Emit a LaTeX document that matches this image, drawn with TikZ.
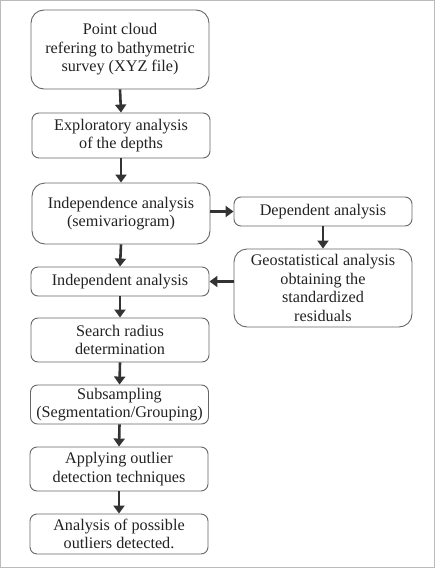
\documentclass[tikz,border=0pt]{standalone}
\usepackage{fontspec}
\setmainfont{Liberation Serif}
\usetikzlibrary{arrows.meta}
\definecolor{boxline}{HTML}{666666}
\definecolor{arrowc}{HTML}{333333}
\definecolor{frame}{HTML}{BBBBBB}
\definecolor{txt}{HTML}{222222}
\begin{document}
\begin{tikzpicture}[x=1pt,y=-1pt,
  stepbox/.style={draw=boxline, line width=0.9pt, rounded corners=7pt, align=center,
    minimum width=178pt, inner sep=0pt, text=txt,
    font=\fontsize{16.2pt}{18.6pt}\selectfont},
  bigbox/.style={stepbox, rounded corners=13pt},
  flow/.style={draw=arrowc, line width=2.6pt, -{Triangle[length=8pt,width=11pt]}}]
\useasboundingbox (0,0) rectangle (435,568);
\draw[frame, line width=1pt] (0.5,0.5) rectangle (434,567);
\node[bigbox, minimum height=79pt] (b1) at (120,49.5) {Point cloud\\refering to bathymetric\\survey (XYZ file)};
\node[stepbox, minimum height=45pt] (b2) at (121,135.5) {Exploratory analysis\\of the depths};
\node[bigbox, minimum height=61pt] (b3) at (121,213.5) {Independence analysis\\(semivariogram)};
\node[stepbox, minimum height=29pt] (b4) at (323,211.5) {Dependent analysis};
\node[bigbox, minimum height=78pt] (b5) at (323,288) {Geostatistical analysis\\obtaining the\\standardized\\residuals};
\node[stepbox, minimum height=29pt] (b6) at (120,281.5) {Independent analysis};
\node[stepbox, minimum height=44pt] (b7) at (120,340) {Search radius\\determination};
\node[stepbox, minimum height=39pt] (b8) at (119.5,404.5) {Subsampling\\(Segmentation/Grouping)};
\node[stepbox, minimum height=44pt] (b9) at (119,469) {Applying outlier\\detection techniques};
\node[stepbox, minimum height=40pt] (b10) at (119,534) {Analysis of possible\\outliers detected.};
\draw[flow] (b1.south) -- (b2.north);
\draw[flow] (b2.south) -- (b3.north);
\draw[flow] (b3.south) -- (b6.north);
\draw[flow] (b6.south) -- (b7.north);
\draw[flow] (b7.south) -- (b8.north);
\draw[flow] (b8.south) -- (b9.north);
\draw[flow] (b9.south) -- (b10.north);
\draw[flow] (b3.east |- b4.west) -- (b4.west);
\draw[flow] (b4.south) -- (b5.north);
\draw[flow] (b5.west |- b6.east) -- (b6.east);
\end{tikzpicture}
\end{document}
